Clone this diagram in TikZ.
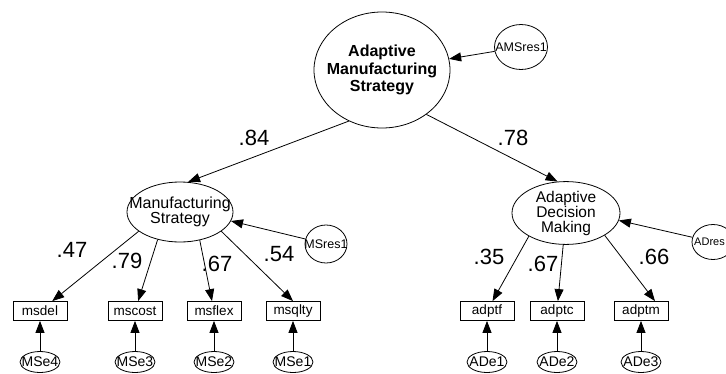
\documentclass[tikz,border=0pt]{standalone}
\usepackage{fontspec}
\setmainfont{Liberation Sans}
\usetikzlibrary{arrows.meta,shapes.geometric}
\newcommand{\ctr}[1]{\makebox[0pt]{#1}}

\begin{document}
\begin{tikzpicture}[x=1pt,y=-1pt,
    lat/.style={draw,ellipse,inner sep=0pt,line width=.8pt},
    obs/.style={draw,rectangle,inner sep=0pt,minimum width=54pt,minimum height=19pt,line width=.8pt,font=\fontsize{13.5}{15}\selectfont},
    err/.style={lat,minimum width=40pt,minimum height=21pt,font=\fontsize{14}{16}\selectfont},
    res/.style={lat,font=\fontsize{12.5}{14}\selectfont},
    load/.style={line width=.8pt,-{Triangle[length=12pt,width=9pt]}},
    coef/.style={font=\fontsize{22}{24}\selectfont}]
    \path[use as bounding box,clip] (0,0) rectangle (726,373);

    % latent variables
    \node[lat,minimum width=136pt,minimum height=116pt,align=center,
          font=\bfseries\fontsize{16}{17.5}\selectfont] (ams) at (382,70)
          {\ctr{Adaptive}\\\ctr{Manufacturing}\\\ctr{Strategy}};
    \node[lat,minimum width=106pt,minimum height=60pt,align=center,
          font=\fontsize{16}{14}\selectfont] (ms) at (180,212)
          {\ctr{Manufacturing}\\\ctr{Strategy}};
    \node[lat,minimum width=108pt,minimum height=60pt,align=center,
          font=\fontsize{15.5}{15}\selectfont] (adm) at (566,213)
          {\ctr{Adaptive}\\\ctr{Decision}\\\ctr{Making}};

    % residuals
    \node[res,minimum width=53pt,minimum height=45pt] (amsres) at (521,47) {\ctr{AMSres1}};
    \node[res,minimum width=42pt,minimum height=38pt] (msres) at (326,244) {\ctr{MSres1}};
    \node[res,minimum width=42pt,minimum height=35pt,font=\fontsize{11}{13}\selectfont]
          (adres) at (713,242) {\ctr{\hspace*{-7pt}ADres}};

    % indicators
    \node[obs] (msdel) at (40,311) {msdel};
    \node[obs] (mscost) at (135,311) {mscost};
    \node[obs] (msflex) at (214,311) {msflex};
    \node[obs] (msqlty) at (293,311) {msqlty};
    \node[obs] (adptf) at (487,311) {adptf};
    \node[obs] (adptc) at (557,311) {adptc};
    \node[obs] (adptm) at (641,311) {adptm};

    % errors
    \node[err] (mse4) at (40,362) {\ctr{MSe4}};
    \node[err] (mse3) at (135,362) {\ctr{MSe3}};
    \node[err] (mse2) at (214,362) {\ctr{MSe2}};
    \node[err] (mse1) at (293,362) {\ctr{MSe1}};
    \node[err] (ade1) at (487,362) {\ctr{ADe1}};
    \node[err] (ade2) at (557,362) {\ctr{ADe2}};
    \node[err] (ade3) at (641,362) {\ctr{ADe3}};

    % paths
    \draw[load] (ams.237) -- (ms.75);
    \draw[load] (ams.315) -- (adm.105);
    \draw[load] (amsres) -- (ams);
    \draw[load] (msres) -- (ms.350);
    \draw[load] (adres) -- (adm.352);
    \draw[load] (ms.205) -- (msdel);
    \draw[load] (ms.231) -- (mscost);
    \draw[load] (ms.305) -- (msflex);
    \draw[load] (ms.335) -- (msqlty.north);
    \draw[load] (adm.212) -- (adptf);
    \draw[load] (adm.265) -- (adptc);
    \draw[load] (adm.330) -- ([xshift=14pt]adptm.north);
    \foreach \e/\o in {mse4/msdel,mse3/mscost,mse2/msflex,mse1/msqlty,
                       ade1/adptf,ade2/adptc,ade3/adptm}
        \draw[load] (\e) -- (\o);

    % coefficients
    \node[coef] (c84) at (254,138) {.84};
    \node[coef] (c78) at (513,138) {.78};
    \node[coef] (c47) at (72,250) {.47};
    \node[coef] (c79) at (127,261) {.79};
    \node[coef] (c67a) at (217,264) {.67};
    \node[coef] (c54) at (279,254) {.54};
    \node[coef] (c35) at (489,257) {.35};
    \node[coef] (c67b) at (543,264) {.67};
    \node[coef] (c66) at (654,257) {.66};
\end{tikzpicture}
\end{document}
